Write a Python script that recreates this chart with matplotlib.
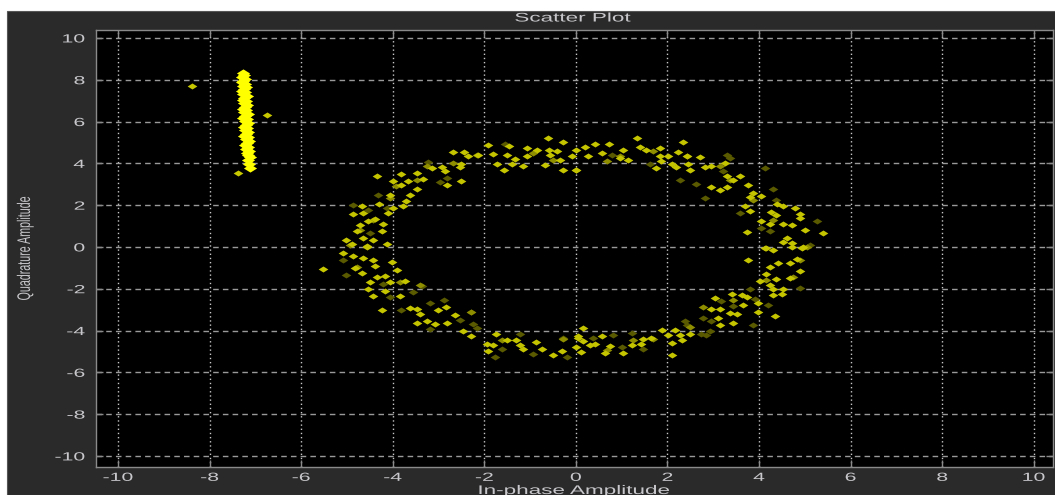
import matplotlib
matplotlib.use('Agg')
import matplotlib.pyplot as plt
from matplotlib.patches import Rectangle
from matplotlib.path import Path
from matplotlib.patheffects import AbstractPathEffect
from matplotlib.transforms import Affine2D
import numpy as np

plt.rcParams['axes.unicode_minus'] = False

# ---- data ----
# dense vertical streak near x = -7.2
streak_x = [-7.27, -7.24, -7.29, -7.22, -7.26, -7.30, -7.23, -7.27, -7.20, -7.25,
            -7.29, -7.22, -7.26, -7.19, -7.24, -7.28, -7.21, -7.25, -7.18, -7.23,
            -7.27, -7.20, -7.24, -7.17, -7.22, -7.26, -7.19, -7.23, -7.16, -7.21,
            -7.25, -7.18, -7.22, -7.15, -7.20, -7.24, -7.17, -7.21, -7.14, -7.19,
            -7.23, -7.16, -7.20, -7.13, -7.18, -7.15, -7.12, -7.17, -7.14, -7.11]
streak_y = [8.32, 8.22, 8.12, 8.03, 7.95, 7.87, 7.80, 7.72, 7.64, 7.56,
            7.48, 7.40, 7.31, 7.22, 7.14, 7.05, 6.96, 6.88, 6.80, 6.71,
            6.62, 6.54, 6.45, 6.36, 6.28, 6.19, 6.10, 6.02, 5.93, 5.84,
            5.76, 5.67, 5.58, 5.50, 5.41, 5.32, 5.24, 5.15, 5.06, 4.97,
            4.88, 4.79, 4.70, 4.60, 4.50, 4.40, 4.28, 4.15, 3.98, 3.80]

# stray points
stray_x = [-8.39, -6.75, -7.37, -5.53]
stray_y = [7.68, 6.30, 3.56, -1.07]

# ring, brighter points
ring_x = [-0.60, -0.28, -1.91, -1.46, -1.06, -0.84, -0.58, -0.41, 0.01, -2.68,
          -2.45, -2.35, -2.13, -1.82, -1.51, -1.33, -1.06, -0.57, -0.35, -0.09,
          -1.73, -1.40, -1.15, -0.68, -1.57, -0.28, 0.00, -2.50, -2.53, -3.15,
          -2.93, -2.86, -3.81, -4.35, -3.66, -3.48, -3.33, -3.81, -4.00, -2.82,
          -2.50, -3.47, -3.62, -4.06, -3.70, -4.29, -4.68, -3.77, -4.00, -4.64,
          -4.86, -4.10, -4.39, -4.53, -4.21, -4.72, -4.79, -4.24, -5.01, -4.64,
          -4.43, -4.90, -4.57, -4.13,
          0.20, 0.41, 0.73, 1.34, 2.34, 0.27, 0.56, 1.03, 0.96, 1.14,
          1.41, 1.54, 1.83, 1.83, 1.85, 2.02, 2.23, 2.42, 2.71, 0.01,
          1.76, 2.09, 2.18, 2.45, 2.50, 2.82, 2.96, 3.25, 3.29, 3.58,
          3.43, 2.96, 3.14, 3.30, 3.76, 3.87, 3.80, 4.05, 4.39, 4.53,
          4.78, 3.69, 3.80, 4.27, 4.38, 4.89, 4.89, 4.05, 4.24, 4.53,
          4.73, 5.00, 5.40, 3.73, 4.60, 4.53, 4.71, 4.96, 4.16,
          -5.08, -4.86, -4.64, -4.43, -4.57, -4.39, -4.02, -3.91, -4.83, -4.66,
          -4.35, -4.17, -4.06, -4.50, -3.73, -4.53, -4.43, -4.17, -3.84, -4.24,
          -3.62, -3.48, -3.41, -3.01, -2.84, -2.64, -3.48, -3.26, -3.08, -2.82,
          -2.46, -2.28, -1.95, -1.81, -1.91, -1.75, -1.51, -1.22, -1.15, -0.86,
          -0.75, -0.50, -0.31, 0.05, 0.01, -1.30,
          3.76, 4.13, 4.31, 4.71, 4.93, 4.82, 4.42, 4.24, 4.67, 4.89,
          4.16, 4.38, 4.67, 4.02, 4.24, 4.31, 4.53, 4.51, 4.31, 3.98,
          4.34, 3.98, 3.73, 3.62, 3.40, 3.03, 3.65, 2.96, 3.14, 3.36,
          3.51, 3.11, 3.14, 3.43, 2.49, 2.27, 2.31, 2.16, 2.02, 2.09,
          1.87, 1.65, 1.47, 1.43, 1.22, 1.03, 0.74, 0.56, 0.63, 0.41,
          0.31, 0.16, 0.05, 0.12, 0.16, 2.11]
ring_y = [5.23, 5.03, 4.87, 4.82, 4.74, 4.66, 4.62, 4.58, 4.62, 4.55,
          4.55, 4.34, 4.39, 4.47, 4.39, 4.23, 4.34, 4.39, 4.18, 4.34,
          3.97, 3.97, 3.86, 3.94, 3.70, 3.70, 3.70, 3.97, 3.81, 3.78,
          3.81, 3.65, 3.49, 3.38, 3.17, 3.54, 3.27, 2.95, 3.17, 2.95,
          3.17, 2.77, 2.50, 2.50, 2.21, 2.05, 1.97, 1.94, 1.86, 1.62,
          1.57, 1.62, 1.33, 1.22, 1.09, 1.06, 0.74, 0.77, 0.34, 0.42,
          0.34, 0.13, 0.06, 0.13,
          4.77, 4.94, 4.94, 5.23, 5.03, 4.34, 4.50, 4.62, 4.26, 4.18,
          4.77, 4.62, 4.71, 4.34, 4.13, 4.34, 4.55, 4.34, 4.29, 3.70,
          3.78, 3.97, 3.81, 3.97, 3.70, 3.81, 3.86, 4.02, 3.38, 3.38,
          3.22, 2.88, 2.74, 2.85, 2.95, 2.58, 2.37, 2.42, 2.05, 1.94,
          1.86, 1.94, 1.70, 1.67, 1.54, 1.57, 1.38, 1.25, 1.09, 1.09,
          1.06, 0.82, 0.66, 0.71, 0.45, 0.23, 0.18, 0.01, -0.06,
          -0.30, -0.42, -0.54, -0.63, 0.01, -0.90, -0.74, -1.11, -0.99, -1.27,
          -1.43, -1.38, -1.67, -1.70, -1.63, -2.02, -2.34, -2.12, -2.34, -3.03,
          -2.92, -2.95, -3.19, -3.03, -2.87, -3.27, -3.62, -3.56, -3.67, -3.62,
          -4.04, -4.26, -4.63, -4.68, -5.00, -4.15, -4.47, -4.71, -4.87, -4.55,
          -4.90, -5.16, -5.00, -4.36, -4.79, -4.47,
          -0.63, -0.06, -0.14, 0.01, -0.06, -0.58, -0.78, -0.95, -0.78, -1.15,
          -1.31, -1.54, -1.47, -1.63, -1.83, -2.02, -1.99, -2.23, -2.31, -2.66,
          -3.30, -3.11, -2.39, -2.28, -2.23, -2.44, -2.79, -2.95, -2.98, -3.14,
          -3.19, -3.40, -3.75, -3.62, -4.15, -4.20, -4.47, -3.99, -4.23, -4.58,
          -3.99, -4.36, -4.39, -4.63, -4.68, -5.06, -4.74, -4.26, -5.06, -4.63,
          -4.71, -3.88, -4.26, -5.03, -4.52, -5.16]

# ring, mid-tone points
ring_mid_x = [-4.93, -4.79, -3.84, -3.41, -2.28, -1.62, -0.28, 0.67, 1.25, 1.69,
              2.49, 2.78, 3.43, 4.16, 4.74, 4.89, 5.04, 4.31, 3.87, 3.36,
              3.14, 2.42, 1.69, 0.96, 0.67, -0.50, -0.93, -2.17, -2.68, -3.26,
              -3.48, -3.92, -4.06, -4.43, -4.72]
ring_mid_y = [0.10, -0.94, -1.67, -1.83, -3.11, -4.47, -4.39, -4.95, -4.47, -4.39,
              -3.83, -2.87, -2.55, -1.59, -1.43, -0.63, 0.01, 1.30, 2.26, 3.22,
              3.86, 4.34, 4.58, 4.34, 4.10, 4.18, 4.50, 4.42, 4.02, 3.86,
              3.22, 2.90, 2.34, 1.30, 0.82]

# ring, faint points
ring_dim_x = [-3.22, -4.32, -4.86, -4.50, 0.78, 3.29, 2.62, 4.12, 4.31, 2.82,
              3.58, 4.05, -5.01, -4.21, -3.37, -3.81, -3.19, -2.88, -2.30, -2.53,
              -2.17, -0.28, -1.77, 4.20, 3.91, 3.43, 3.18, 2.78, 2.96, 2.38,
              2.93, 2.85, 1.22, 1.00, -2.82, -2.97, -4.13, -4.53, 2.27, 3.22,
              3.36, 4.38, 4.24, 5.11, 5.26, 1.62, -5.08, -4.06, -3.55, -3.19,
              -2.24, -1.62, -0.93, -0.20, -1.22, 2.42, 2.74, 3.87, 4.89, 3.80,
              1.47, 0.81, 0.38, -1.55]
ring_dim_y = [4.07, 2.47, 2.02, 0.66, 4.39, 4.39, 3.01, 3.78, 2.79, 2.34,
              1.62, 0.90, -1.35, -1.79, -1.86, -3.03, -2.66, -2.55, -3.11, -3.51,
              -3.88, -4.36, -5.27, -2.79, -2.50, -2.82, -2.60, -3.40, -3.56, -3.56,
              -4.04, -4.20, -4.10, -4.79, 3.29, 3.10, 1.86, 1.78, 3.22, 3.61,
              4.26, 2.26, 0.74, 0.10, 1.22, 3.97, -0.63, -2.38, -2.14, -3.92,
              -3.70, -4.87, -5.11, -5.27, -4.15, -3.75, -4.15, -3.75, -1.95, -1.99,
              -4.87, -4.23, -4.36, 4.94]

ticks = list(range(-10, 11, 2))


# the source screenshot is stretched sideways, text included
class HStretch(AbstractPathEffect):
    def __init__(self, sx=1.8, anchor='center'):
        super().__init__()
        self.sx = sx
        self.anchor = anchor

    def draw_path(self, renderer, gc, tpath, affine, rgbFace=None):
        bb = tpath.get_extents(affine)
        x0 = bb.x1 if self.anchor == 'right' else (bb.x0 + bb.x1) / 2
        t = affine + Affine2D().translate(-x0, 0).scale(self.sx, 1).translate(x0, 0)
        renderer.draw_path(gc, tpath, t, rgbFace)


# wide, flat diamond like the scope dots
dot = Path([(-1, 0), (0, 0.62), (1, 0), (0, -0.62), (-1, 0)],
           [Path.MOVETO, Path.LINETO, Path.LINETO, Path.LINETO, Path.CLOSEPOLY])

W, H = 1055, 495
fig = plt.figure(figsize=(W / 100, H / 100), dpi=100, facecolor='white')
# dark panel behind the axes
fig.patches.append(Rectangle((7 / W, 0), 1, 1 - 11 / H, transform=fig.transFigure,
                             facecolor='#2a2a2a', edgecolor='#555555', lw=0.8, zorder=-5))

ax = fig.add_axes([96 / W, 1 - 467 / H, (1053 - 96) / W, (467 - 30) / H])
ax.set_zorder(1)
ax.set_facecolor('black')

ax.plot(ring_dim_x, ring_dim_y, ls='none', marker=dot, ms=7, mew=0, color='#5a5a00')
ax.plot(ring_mid_x, ring_mid_y, ls='none', marker=dot, ms=7, mew=0, color='#8e8e00')
ax.plot(ring_x, ring_y, ls='none', marker=dot, ms=7, mew=0, color='#c4c400')
ax.plot(stray_x, stray_y, ls='none', marker=dot, ms=7, mew=0, color='#c8c800')
ax.plot(streak_x, streak_y, ls='none', marker=dot, ms=9.5, mew=0, color='#ffff00')

ax.set_xlim(-10.48, 10.42)
ax.set_ylim(-10.53, 10.38)
ax.set_xticks(ticks)
ax.set_yticks(ticks)

for v in ticks:
    ax.axvline(v, color='#c8c8c8', lw=1.0, ls=(0, (1, 2)), zorder=0.5)
    ax.axhline(v, color='#9a9a9a', lw=1.0, ls=(0, (4, 3)), zorder=0.5)

for s in ax.spines.values():
    s.set_color('#8a8a8a')
    s.set_linewidth(1.0)
ax.tick_params(direction='in', top=True, right=True, length=5, width=1,
               color='#8a8a8a', labelcolor='#c8c8cc', labelsize=8.5)
ax.tick_params(axis='x', pad=3.5)
ax.tick_params(axis='y', pad=8)
for lab in ax.get_xticklabels():
    lab.set_family(['Liberation Sans', 'DejaVu Sans'])
    lab.set_path_effects([HStretch(1.8, 'center')])
for lab in ax.get_yticklabels():
    lab.set_family(['Liberation Sans', 'DejaVu Sans'])
    lab.set_path_effects([HStretch(1.8, 'right')])

txt = dict(color='#c8c8cc', family=['Liberation Sans', 'DejaVu Sans'])
fig.text(573 / W, 1 - 18.5 / H, 'Scatter Plot', ha='center', va='center',
         fontsize=9, path_effects=[HStretch(1.8)], **txt)
fig.text(574 / W, 1 - 491 / H, 'In-phase Amplitude', ha='center', va='center',
         fontsize=9, path_effects=[HStretch(1.8)], **txt)
fig.text(25 / W, 1 - 248 / H, 'Quadrature Amplitude', ha='center', va='center',
         rotation=90, fontsize=7.7, path_effects=[HStretch(1.7)], **txt)

fig.savefig('out.png', dpi=100, facecolor='white')
